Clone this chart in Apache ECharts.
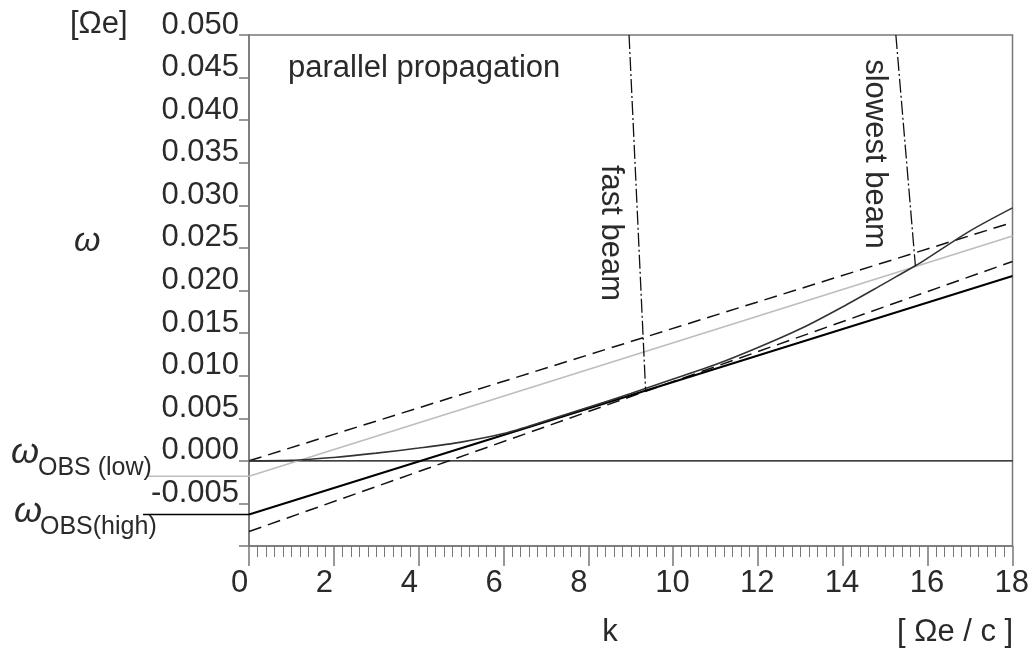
<!DOCTYPE html>
<html>
<head>
<meta charset="utf-8">
<script src="https://cdn.jsdelivr.net/npm/echarts@6/dist/echarts.min.js"></script>
<style>
  html, body { margin: 0; padding: 0; background: #fff; }
  #chart { width: 1032px; height: 648px; }
</style>
</head>
<body>
<div id="chart"></div>
<script>
// Wave number k [Ωe/c] and frequency ω [Ωe], parallel propagation
const omegaObsLow = -0.0018;
const omegaObsHigh = -0.0063;

const zeroLine    = [[0, 0.000], [18, 0.000]];
const upperDashed = [[0, 0.000], [18, 0.0280]];
const lowLine     = [[0, omegaObsLow], [18, 0.0264]];
const lowerDashed = [[0, -0.0083], [18, 0.0234]];
const highLine    = [[0, omegaObsHigh], [18, 0.0217]];

// dispersion curve
const curveK = [0, 1, 2, 3, 4, 5, 6, 7, 8, 9, 10, 11, 12, 13, 14, 15, 15.71, 16, 17, 18];
const curveW = [0, 0.00005, 0.0004, 0.0009, 0.0015, 0.0022, 0.0032, 0.0047, 0.0063, 0.0079,
                0.0096, 0.0113, 0.0133, 0.0155, 0.0181, 0.0209, 0.0229, 0.0238, 0.0270, 0.0297];

// beam resonance lines
const fastBeam = [[8.96, 0.050], [9.35, 0.0083]];
const slowBeam = [[15.25, 0.050], [15.71, 0.0229]];

const kMin = 0, kMax = 18, kStep = 2;
const wMin = -0.010, wMax = 0.050, wStep = 0.005;

const FONT = "'Liberation Sans', Arial, sans-serif";
const TXT = '#2a2a2a';
const AXIS = '#777';

const chart = echarts.init(document.getElementById('chart'), null, { renderer: 'canvas' });

function lineSeries(data, color, width, type, z, smooth) {
  return {
    type: 'line', data: data, showSymbol: false, symbol: 'none', smooth: smooth || false,
    animation: false, silent: true, z: z || 2,
    lineStyle: { color: color, width: width, type: type || 'solid' }
  };
}

const option = {
  animation: false,
  backgroundColor: '#fff',
  grid: { left: 249, right: 18, top: 35, bottom: 102, show: true,
          borderColor: AXIS, borderWidth: 1.5, backgroundColor: 'transparent' },
  xAxis: {
    type: 'value', min: kMin, max: kMax, interval: kStep,
    axisLine: { onZero: false, lineStyle: { color: AXIS, width: 1.5 } },
    axisTick: { length: 20, lineStyle: { color: AXIS, width: 1.5 } },
    minorTick: { show: true, splitNumber: 10, length: 11, lineStyle: { color: AXIS, width: 1 } },
    splitLine: { show: false }, minorSplitLine: { show: false },
    axisLabel: {
      margin: 22,
      formatter: v => '{n|' + v + '}',
      rich: { n: { width: 36, align: 'left', fontSize: 31, fontFamily: FONT, color: TXT } }
    }
  },
  yAxis: {
    type: 'value', min: wMin, max: wMax, interval: wStep,
    axisLine: { onZero: false, lineStyle: { color: AXIS, width: 1.5 } },
    axisTick: { length: 10, lineStyle: { color: AXIS, width: 1.5 } },
    splitLine: { show: false },
    axisLabel: {
      margin: 10, verticalAlign: 'bottom', lineHeight: 20,
      fontSize: 31, fontFamily: FONT, color: TXT,
      formatter: v => (Math.abs(v - wMin) < 1e-9 ? '' : v.toFixed(3))
    }
  },
  series: [
    lineSeries(zeroLine, '#000', 1.3, 'solid', 2),
    lineSeries(upperDashed, '#111', 1.5, [13, 7], 3),
    lineSeries(lowLine, '#bdbdbd', 1.5, 'solid', 2),
    lineSeries(lowerDashed, '#111', 1.5, [13, 7], 3),
    lineSeries(highLine, '#000', 2, 'solid', 4),
    lineSeries(curveK.map((k, i) => [k, curveW[i]]), '#333', 1.6, 'solid', 4, 0.3),
    lineSeries(fastBeam, '#111', 1.3, [14, 3, 2, 3], 5),
    lineSeries(slowBeam, '#111', 1.3, [14, 3, 2, 3], 5)
  ]
};
chart.setOption(option);

// Label leaders for the observed frequencies, placed through the axis scales
const pLow = chart.convertToPixel({ gridIndex: 0 }, [0, omegaObsLow]);
const pHigh = chart.convertToPixel({ gridIndex: 0 }, [0, omegaObsHigh]);

function txt(x, y, s, size, opts) {
  return Object.assign({
    type: 'text', x: x, y: y, silent: true, z: 10,
    style: Object.assign({ text: s, fontSize: size, fontFamily: FONT, fill: TXT,
                           align: 'left', verticalAlign: 'middle' }, (opts && opts.style) || {})
  }, (opts && opts.el) || {});
}

chart.setOption({
  graphic: [
    { type: 'line', silent: true, z: 9,
      shape: { x1: 148, y1: pLow[1], x2: pLow[0], y2: pLow[1] },
      style: { stroke: '#bdbdbd', lineWidth: 1.5 } },
    { type: 'line', silent: true, z: 9,
      shape: { x1: 143, y1: pHigh[1], x2: pHigh[0], y2: pHigh[1] },
      style: { stroke: '#000', lineWidth: 1.5 } },
    txt(70, 24, '[Ωe]', 31),
    txt(74, 242, 'ω', 34, { style: { fontStyle: 'italic' } }),
    txt(11, 453, 'ω', 36, { style: { fontStyle: 'italic' } }),
    txt(38, 468, 'OBS (low)', 25),
    txt(14, 512, 'ω', 36, { style: { fontStyle: 'italic' } }),
    txt(40, 527, 'OBS(high)', 25),
    txt(288, 68, 'parallel propagation', 31),
    txt(610, 632, 'k', 31, { style: { align: 'center' } }),
    txt(897, 632, '[ Ωe / c ]', 31),
    txt(611, 233, 'fast beam', 31, { style: { align: 'center' }, el: { rotation: -Math.PI / 2 } }),
    txt(875, 154, 'slowest beam', 31, { style: { align: 'center' }, el: { rotation: -Math.PI / 2 } })
  ]
});
</script>
</body>
</html>
